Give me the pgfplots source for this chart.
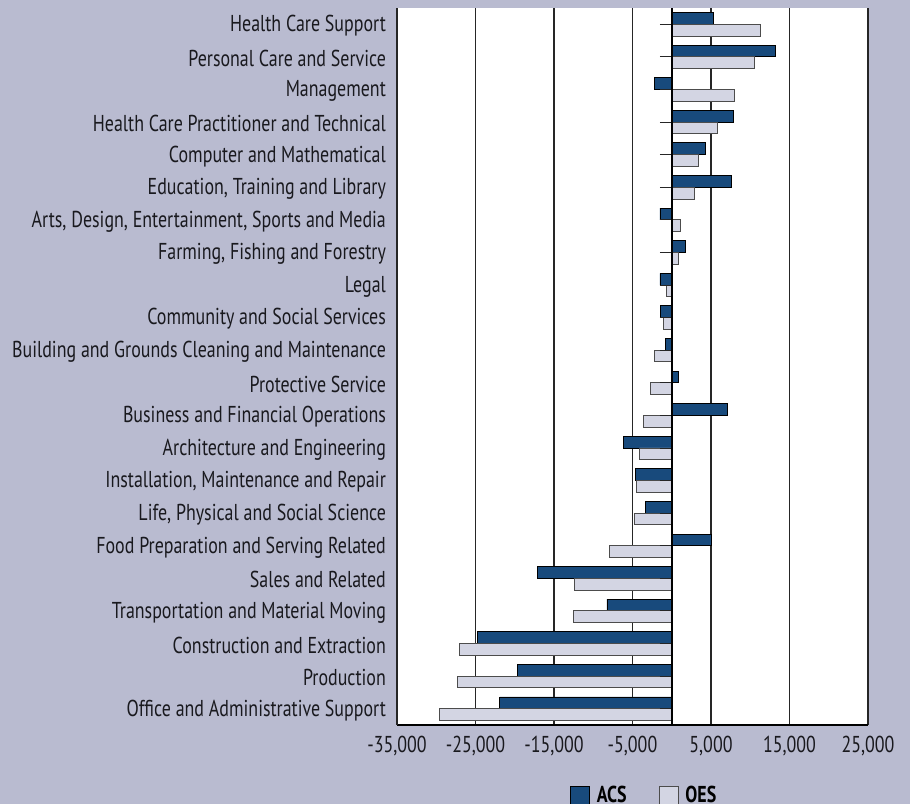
\documentclass[border=0pt]{standalone}
\usepackage{fontspec}
\setmainfont[FakeStretch=0.78]{PT Sans}
\usepackage{pgfplots}
\pgfplotsset{compat=1.18}
\definecolor{bgc}{RGB}{185,187,208}
\definecolor{acs}{RGB}{24,74,124}
\definecolor{oes}{RGB}{211,213,227}
\definecolor{txt}{RGB}{25,25,30}
\begin{document}
\fontsize{23bp}{27bp}\selectfont
\begin{tikzpicture}
\path[use as bounding box, fill=bgc] (0,0) rectangle (910bp,804bp);
\begin{axis}[
  at={(397bp,79bp)}, anchor=south west,
  scale only axis, width=471bp, height=717bp,
  axis background/.style={fill=white},
  xbar, bar width=0.36,
  xmin=-35000, xmax=25000,
  ymin=-0.5, ymax=21.5, y dir=reverse,
  xtick={-35000,-25000,-15000,-5000,5000,15000,25000},
  /pgf/number format/assume math mode=true,
  /pgf/number format/1000 sep={,},
  scaled x ticks=false,
  xmajorgrids, major grid style={black!85, line width=1.1bp},
  xtick style={draw=none},
  ytick={0,...,21},
  ytick style={draw=none},
  yticklabels={Health Care Support, Personal Care and Service, Management,
    Health Care Practitioner and Technical, Computer and Mathematical,
    {Education, Training and Library}, {Arts, Design, Entertainment, Sports and Media},
    {Farming, Fishing and Forestry}, Legal, Community and Social Services,
    Building and Grounds Cleaning and Maintenance, Protective Service,
    Business and Financial Operations, Architecture and Engineering,
    {Installation, Maintenance and Repair}, {Life, Physical and Social Science},
    Food Preparation and Serving Related, Sales and Related,
    Transportation and Material Moving, Construction and Extraction,
    Production, Office and Administrative Support},
  tick label style={font=\fontsize{23bp}{27bp}\selectfont, text=txt},
  yticklabel style={xshift=1bp, yshift=-1.5bp},
  xticklabel style={yshift=-3bp},
  axis x line*=bottom, axis y line*=left,
  x axis line style={line width=1.5bp, black},
  y axis line style={line width=1.1bp, black!85},
  legend style={at={(0.367,-0.099)}, anchor=west, draw=none, fill=none,
    inner sep=0pt, legend columns=2, font=\fontsize{23bp}{27bp}\selectfont\bfseries,
    /tikz/every odd column/.append style={column sep=5bp},
    /tikz/every even column/.append style={column sep=30bp}},
  legend image code/.code={\draw[#1, line width=0.8bp] (0bp,-9.5bp) rectangle (19bp,9.5bp);},
]
\addplot[fill=acs, draw=black, line width=0.9bp, bar shift=-0.18] coordinates {
(5300,0) (13200,1) (-2250,2) (7900,3) (4300,4) (7600,5) (-1500,6) (1700,7)
(-1500,8) (-1400,9) (-800,10) (850,11) (7100,12) (-6200,13) (-4650,14)
(-3350,15) (5000,16) (-17150,17) (-8250,18) (-24700,19) (-19600,20) (-21900,21)};
\addlegendentry{ACS}
\addplot[fill=oes, draw=black!70, line width=0.9bp, bar shift=0.18] coordinates {
(11300,0) (10500,1) (8000,2) (5800,3) (3400,4) (2900,5) (1100,6) (900,7)
(-700,8) (-1100,9) (-2200,10) (-2650,11) (-3600,12) (-4100,13) (-4550,14)
(-4800,15) (-7900,16) (-12400,17) (-12550,18) (-27100,19) (-27350,20) (-29550,21)};
\addlegendentry{OES}
\pgfplotsinvokeforeach{0,...,21}{\draw[black!85, line width=0.9bp] (axis cs:-1500,#1) -- (axis cs:0,#1);}
\draw[black, line width=2bp] (axis cs:0,-0.5) -- (axis cs:0,21.5);
\end{axis}
\end{tikzpicture}
\end{document}
